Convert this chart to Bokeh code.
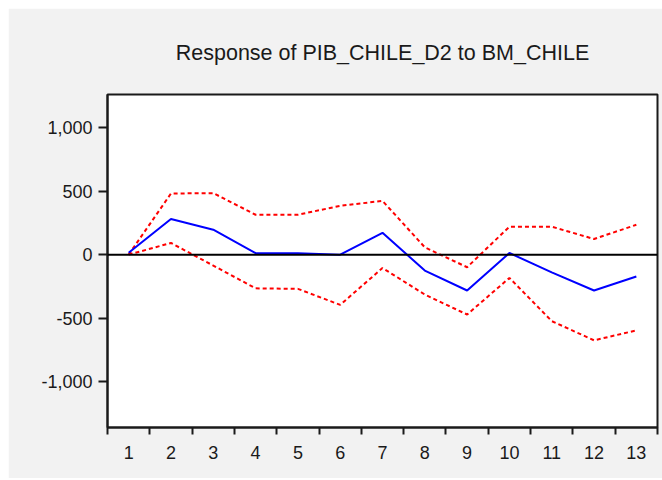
from bokeh.plotting import figure
from bokeh.layouts import row, column
from bokeh.models import Range1d, FixedTicker, NumeralTickFormatter, Span, ColumnDataSource, Spacer
from bokeh.embed import file_html
from bokeh.resources import INLINE

# Data
periods = [1, 2, 3, 4, 5, 6, 7, 8, 9, 10, 11, 12, 13]
response = [15, 280, 196, 12, 10, 0, 172, -125, -282, 13, -139, -282, -172]
upper = [0, 481, 484, 314, 314, 384, 423, 58, -99, 220, 220, 123, 235]
lower = [0, 92, -86, -265, -269, -395, -105, -314, -471, -183, -523, -674, -596]
y_ticks = [-1000, -500, 0, 500, 1000]
x_labels = [str(v) for v in periods]

src = ColumnDataSource(dict(x=periods, r=response, u=upper, l=lower))

FONT = "Liberation Sans"

p = figure(width=654, height=470, output_backend="svg", toolbar_location=None,
           x_range=Range1d(0.5, 13.5), y_range=Range1d(-1360, 1260),
           min_border_left=99, min_border_right=5, min_border_top=85, min_border_bottom=51)

p.title.text = "Response of PIB_CHILE_D2 to BM_CHILE"
p.title.align = "center"
p.title.text_font = FONT
p.title.text_font_size = "21.5px"
p.title.text_font_style = "normal"
p.title.text_color = "#1a1a1a"
p.title.standoff = 60

p.background_fill_color = "white"
p.border_fill_color = "#f2f2f2"
p.outline_line_color = "#1a1a1a"
p.outline_line_width = 2
p.grid.visible = False

# x axis: labels at integers, tick marks between periods
p.xaxis.ticker = FixedTicker(ticks=periods, minor_ticks=[v - 0.5 for v in periods] + [periods[-1] + 0.5])
p.xaxis.major_label_overrides = {v: s for v, s in zip(periods, x_labels)}
p.xaxis.major_tick_out = 0
p.xaxis.major_tick_in = 0
p.xaxis.minor_tick_out = 7
p.xaxis.minor_tick_in = 0
p.xaxis.minor_tick_line_color = "#1a1a1a"
p.xaxis.minor_tick_line_width = 2
p.xaxis.major_label_standoff = 11

# y axis
p.yaxis.ticker = FixedTicker(ticks=y_ticks)
p.yaxis.formatter = NumeralTickFormatter(format="0,0")
p.yaxis.major_tick_out = 9
p.yaxis.major_tick_in = 0
p.yaxis.minor_tick_out = 0
p.yaxis.minor_tick_in = 0
p.yaxis.major_tick_line_width = 2
p.yaxis.major_label_standoff = 6

for ax in (p.xaxis, p.yaxis):
    ax.axis_line_color = "#1a1a1a"
    ax.axis_line_width = 2
    ax.major_tick_line_color = "#1a1a1a"
    ax.major_label_text_font = FONT
    ax.major_label_text_font_size = "18px"
    ax.major_label_text_color = "#1a1a1a"

p.add_layout(Span(location=0, dimension="width", line_color="black", line_width=2))

p.line("x", "u", source=src, line_color="#ff0000", line_width=2, line_dash="4 3")
p.line("x", "l", source=src, line_color="#ff0000", line_width=2, line_dash="4 3")
p.line("x", "r", source=src, line_color="#0000ff", line_width=2)

layout = row(Spacer(width=8), column(Spacer(height=8), p))

open("out.html", "w").write(file_html(layout, INLINE))
